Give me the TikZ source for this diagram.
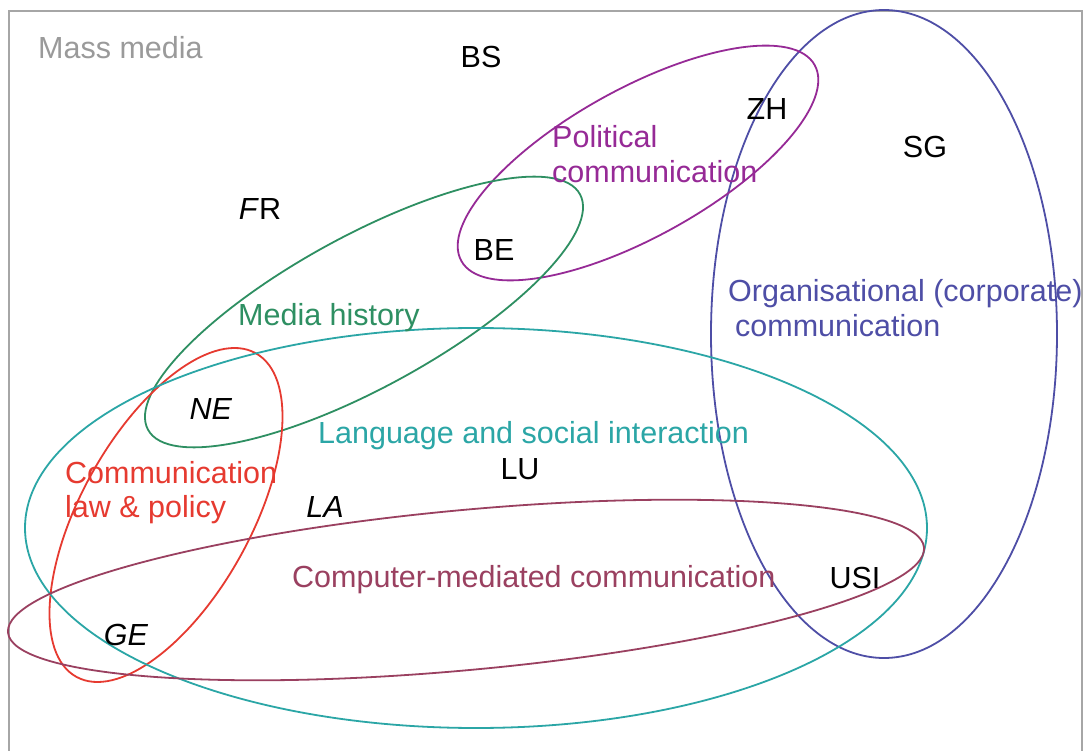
\documentclass[tikz,border=0pt]{standalone}
\usepackage{fontspec}
\setmainfont{Liberation Sans}
\definecolor{framegray}{HTML}{A6A6A6}
\definecolor{massgray}{HTML}{9A9A9A}
\definecolor{orgblue}{HTML}{4E4EA6}
\definecolor{polpurple}{HTML}{962A96}
\definecolor{histgreen}{HTML}{2E8F62}
\definecolor{lawred}{HTML}{E63A30}
\definecolor{langcyan}{HTML}{2BA6A6}
\definecolor{cmcmaroon}{HTML}{9A4060}
\begin{document}
\begin{tikzpicture}[x=1pt,y=-1pt,
  field/.style={line width=1.8pt},
  lbl/.style={inner sep=0pt,font=\fontsize{30.5}{35}\selectfont},
  site/.style={lbl,anchor=base,text=black},
  area/.style={lbl,anchor=base west,align=left}]
\useasboundingbox (0,0) rectangle (1088,751);
\fill[white] (0,0) rectangle (1088,751);
% open frame of the "Mass media" field
\draw[framegray,line width=2pt] (9,751) -- (9,11) -- (1082,11) -- (1082,751);

% research fields
\draw[field,orgblue] (884,334) ellipse [x radius=173, y radius=324];
\draw[field,polpurple,rotate around={29:(638,163)}] (638,163) ellipse [x radius=202, y radius=74];
\draw[field,histgreen,rotate around={28.6:(364,312)}] (364,312) ellipse [x radius=246, y radius=76];
\draw[field,lawred,rotate around={61:(166,515)}] (166,515) ellipse [x radius=185, y radius=85];
\draw[field,langcyan] (476,528) ellipse [x radius=451, y radius=200];
\draw[field,cmcmaroon,rotate around={5.3:(466,590)}] (466,590) ellipse [x radius=460, y radius=80];

% field labels (multi-line labels sit on the baseline of their last line)
\node[area,text=massgray] (mass) at (38,59) {Mass media};
\node[area,text=polpurple] (pol) at (552,183) {Political\\communication};
\node[area,text=histgreen] (hist) at (238,326) {Media history};
\node[area,text=orgblue] (org) at (728,337) {Organisational (corporate)\\\hspace*{7pt}communication};
\node[area,text=langcyan] (lang) at (318,444) {Language and social interaction};
\node[area,text=lawred] (law) at (65,518) {Communication\\law \& policy};
\node[area,text=cmcmaroon] (cmc) at (292,587) {Computer-mediated communication};

% universities
\node[site] (bs) at (481,68) {BS};
\node[site] (zh) at (767,120) {ZH};
\node[site] (sg) at (925,158) {SG};
\node[site] (fr) at (260,220) {\textit{F}R};
\node[site] (be) at (494,261) {BE};
\node[site] (ne) at (211,420) {\textit{NE}};
\node[site] (lu) at (520,479) {LU};
\node[site] (la) at (325,518) {\textit{LA}};
\node[site] (usi) at (855,588) {USI};
\node[site] (ge) at (126,645) {\textit{GE}};
\end{tikzpicture}
\end{document}
